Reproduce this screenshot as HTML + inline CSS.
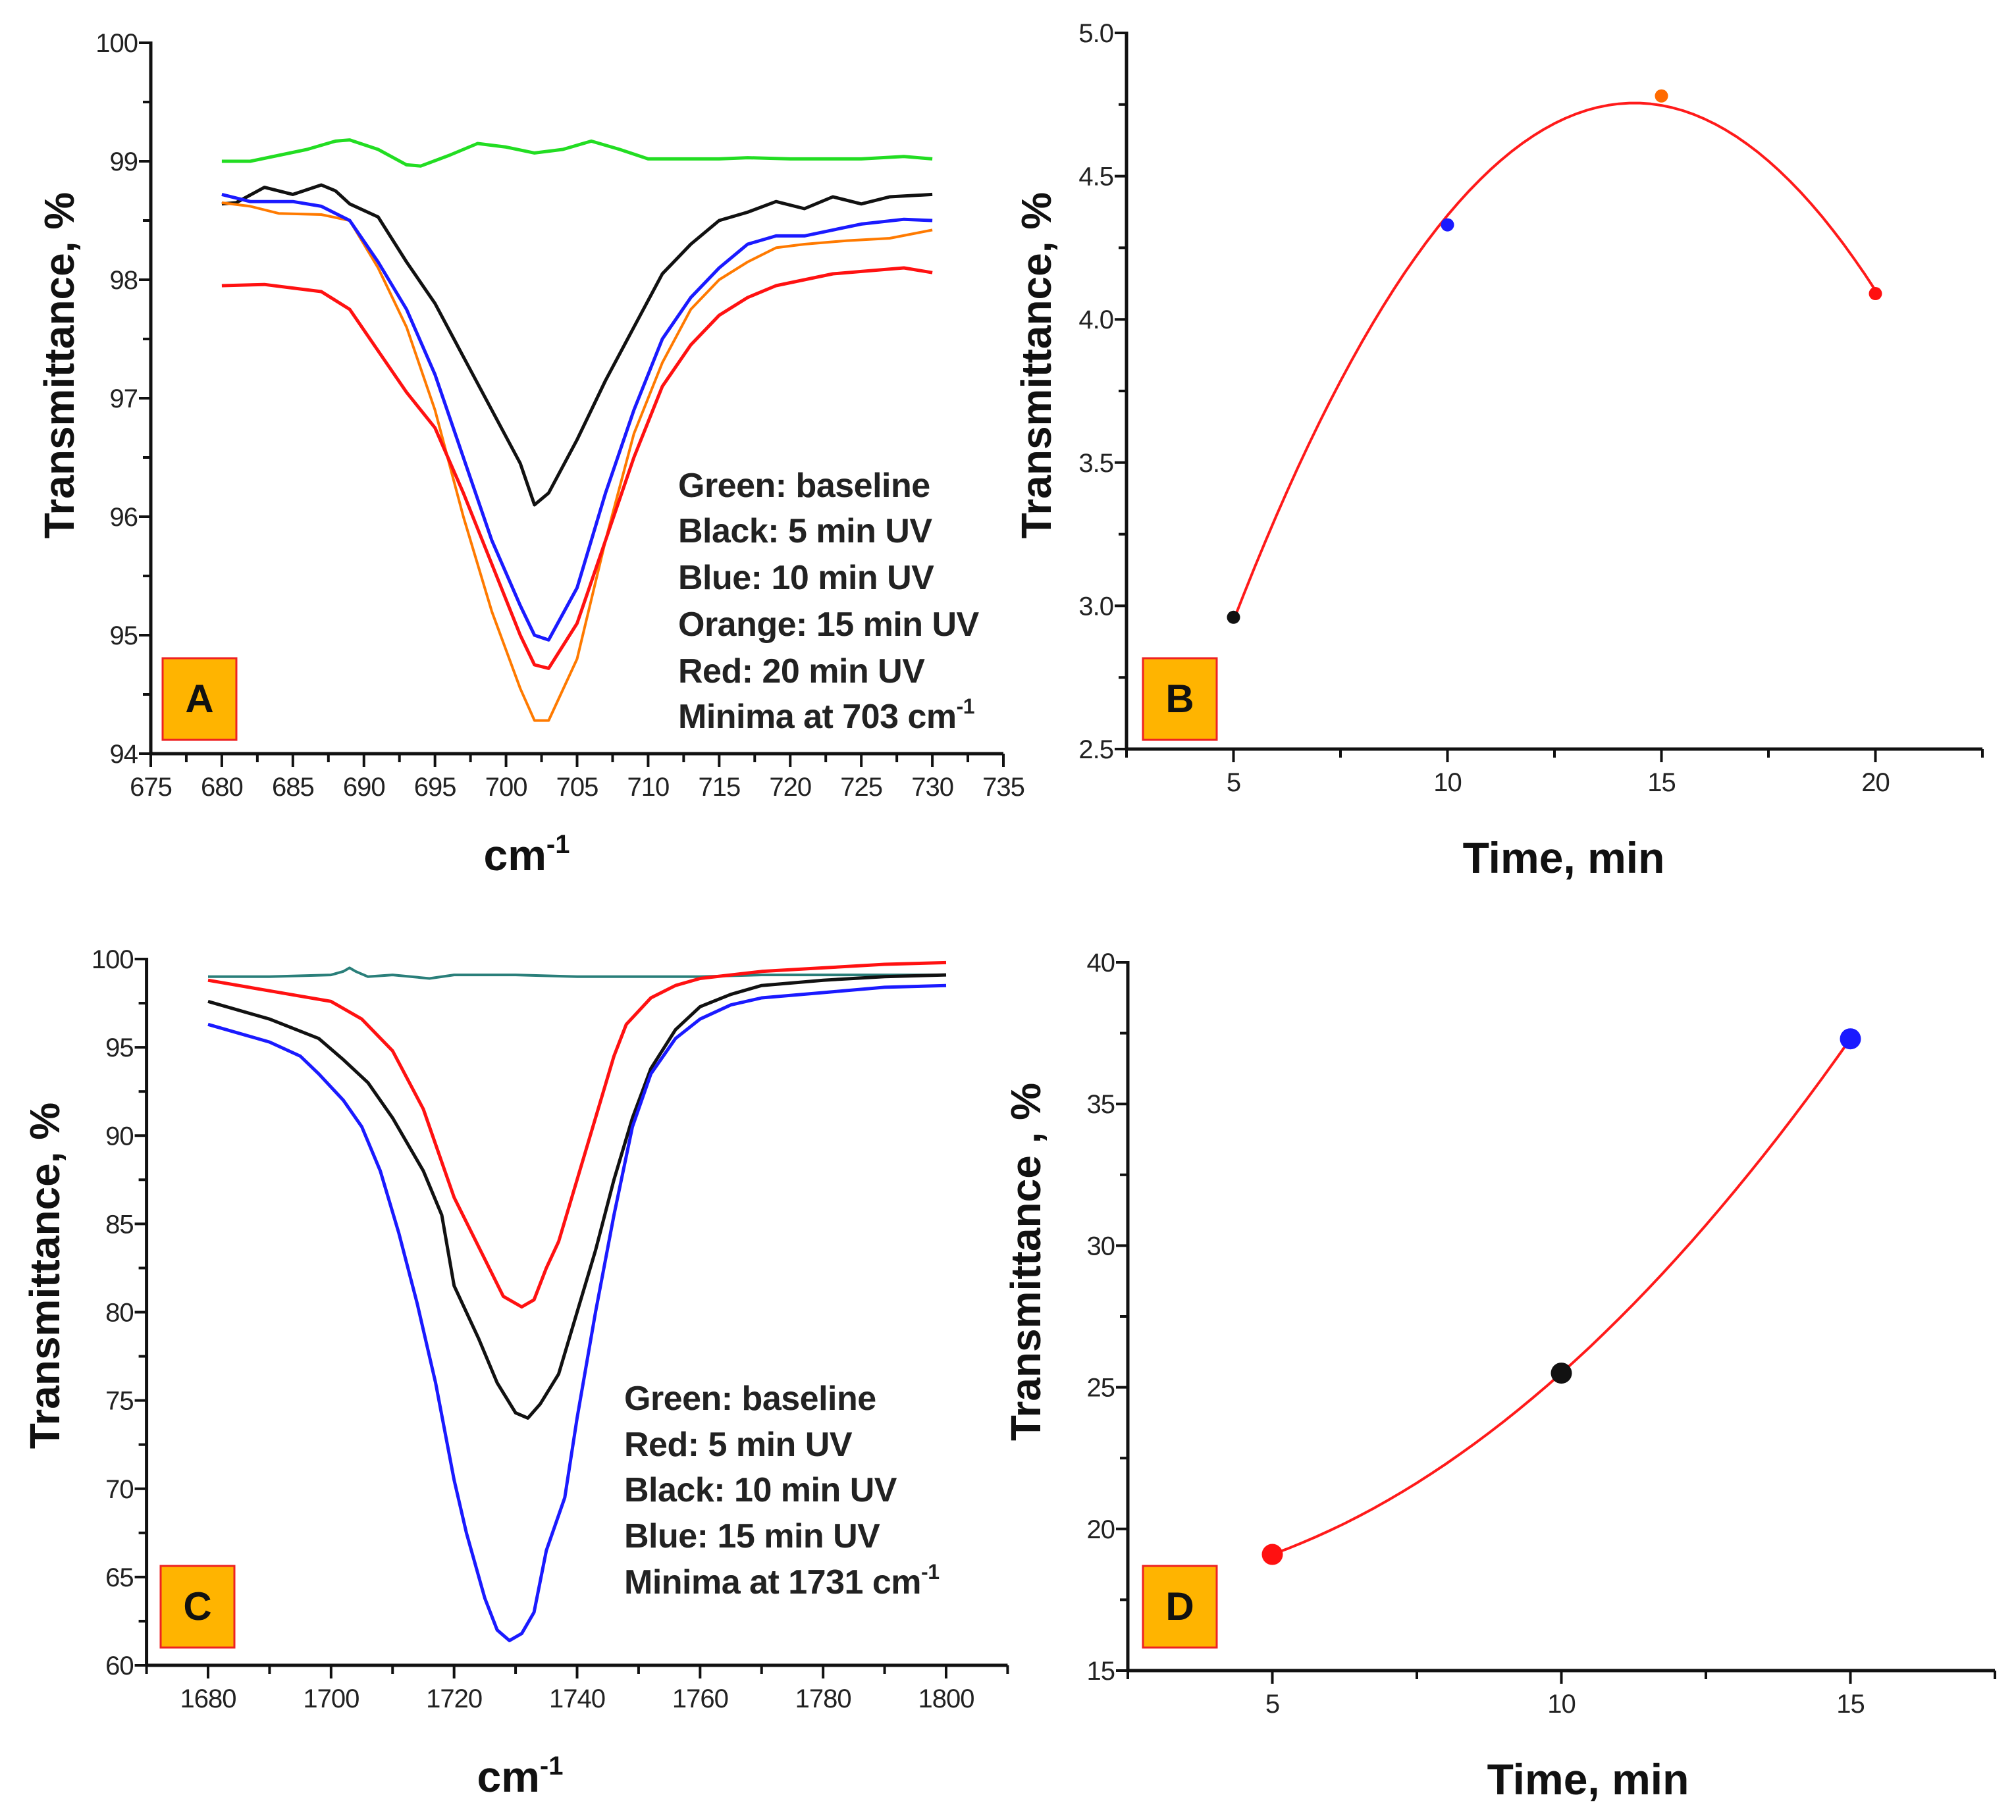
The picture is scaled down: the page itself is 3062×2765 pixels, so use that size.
<!DOCTYPE html>
<html><head><meta charset="utf-8">
<style>
html,body{margin:0;padding:0;background:#fff;}
svg text{font-family:"Liberation Sans",Arial,sans-serif;}
</style></head>
<body>
<svg id="fig" xmlns="http://www.w3.org/2000/svg" width="3062" height="2760" viewBox="0 0 3062 2760">
<rect x="0" y="0" width="3062" height="2760" fill="#ffffff"/>
</svg>
<script>
// ---------- Panel A data ----------
const aGreenX=[680,682,684,686,688,689,691,693,694,696,698,700,702,704,706,708,710,715,717,720,725,728,730];
const aGreenY=[99.0,99.0,99.05,99.1,99.17,99.18,99.1,98.97,98.96,99.05,99.15,99.12,99.07,99.1,99.17,99.1,99.02,99.02,99.03,99.02,99.02,99.04,99.02];
const aBlackX=[680,681,683,685,687,688,689,691,693,695,697,699,701,702,703,705,707,709,711,713,715,717,719,721,723,725,727,730];
const aBlackY=[98.64,98.65,98.78,98.72,98.8,98.75,98.64,98.53,98.15,97.8,97.35,96.9,96.45,96.1,96.2,96.65,97.15,97.6,98.05,98.3,98.5,98.57,98.66,98.6,98.7,98.64,98.7,98.72];
const aBlueX=[680,682,685,687,689,691,693,695,697,699,701,702,703,705,707,709,711,713,715,717,719,721,723,725,728,730];
const aBlueY=[98.72,98.66,98.66,98.62,98.5,98.15,97.75,97.2,96.5,95.8,95.25,95.0,94.96,95.4,96.2,96.9,97.5,97.85,98.1,98.3,98.37,98.37,98.42,98.47,98.51,98.5];
const aOrangeX=[680,682,684,687,689,691,693,695,697,699,701,702,703,705,707,709,711,713,715,717,719,721,724,727,730];
const aOrangeY=[98.65,98.62,98.56,98.55,98.5,98.1,97.6,96.9,96.0,95.2,94.55,94.28,94.28,94.8,95.8,96.7,97.3,97.75,98.0,98.15,98.27,98.3,98.33,98.35,98.42];
const aRedX=[680,683,685,687,689,691,693,695,697,699,701,702,703,705,707,709,711,713,715,717,719,721,723,725,728,730];
const aRedY=[97.95,97.96,97.93,97.9,97.75,97.4,97.05,96.75,96.2,95.6,95.0,94.75,94.72,95.1,95.8,96.5,97.1,97.45,97.7,97.85,97.95,98.0,98.05,98.07,98.1,98.06];
const aXTicks=[675,680,685,690,695,700,705,710,715,720,725,730,735];
const aYTicks=[94,95,96,97,98,99,100];
// ---------- Panel B data ----------
const bTime=[5,10,15,20];
const bTrans=[2.96,4.33,4.78,4.09];
const bXTicks=[5,10,15,20];
const bYTicks=["2.5","3.0","3.5","4.0","4.5","5.0"];
// ---------- Panel C data ----------
const cGreenX=[1680,1690,1700,1702,1703,1704,1706,1710,1716,1720,1730,1740,1750,1760,1770,1780,1790,1800];
const cGreenY=[99.0,99.0,99.1,99.3,99.5,99.3,99.0,99.1,98.9,99.1,99.1,99.0,99.0,99.0,99.1,99.1,99.1,99.1];
const cRedX=[1680,1690,1700,1705,1710,1715,1718,1720,1725,1728,1731,1733,1735,1737,1740,1743,1746,1748,1752,1756,1760,1770,1780,1790,1800];
const cRedY=[98.8,98.2,97.6,96.6,94.8,91.5,88.5,86.5,83,80.9,80.3,80.7,82.5,84,87.5,91,94.5,96.3,97.8,98.5,98.9,99.3,99.5,99.7,99.8];
const cBlackX=[1680,1690,1698,1702,1706,1710,1715,1718,1720,1724,1727,1730,1732,1734,1737,1740,1743,1746,1749,1752,1756,1760,1765,1770,1780,1790,1800];
const cBlackY=[97.6,96.6,95.5,94.3,93,91,88,85.5,81.5,78.5,76,74.3,74,74.8,76.5,80,83.5,87.5,91,93.8,96,97.3,98,98.5,98.8,99.0,99.1];
const cBlueX=[1680,1690,1695,1698,1702,1705,1708,1711,1714,1717,1720,1722,1725,1727,1729,1731,1733,1735,1738,1740,1743,1746,1749,1752,1756,1760,1765,1770,1780,1790,1800];
const cBlueY=[96.3,95.3,94.5,93.5,92,90.5,88,84.5,80.5,76,70.5,67.5,63.8,62,61.4,61.8,63,66.5,69.5,74,80,85.5,90.5,93.5,95.5,96.6,97.4,97.8,98.1,98.4,98.5];
const cXTicks=[1680,1700,1720,1740,1760,1780,1800];
const cYTicks=[60,65,70,75,80,85,90,95,100];
// ---------- Panel D data ----------
const dTime=[5,10,15];
const dTrans=[19.1,25.5,37.3];
const dXTicks=[5,10,15];
const dYTicks=[15,20,25,30,35,40];

const NS="http://www.w3.org/2000/svg";
const svg=document.getElementById('fig');
function mk(tag,attrs,parent){const e=document.createElementNS(NS,tag);for(const k in attrs)e.setAttribute(k,attrs[k]);(parent||svg).appendChild(e);return e;}
function scale(d0,d1,r0,r1){return v=>r0+(v-d0)*(r1-r0)/(d1-d0);}

function axes(g,sx,sy,x0,x1,y0,y1,xt,xminor,yt,yminor){
  const L=sx(x0),R=sx(x1),T=sy(y1),B=sy(y0);
  const ax=mk('line',{x1:L,y1:B,x2:R,y2:B,stroke:'#111','stroke-width':5},g);
  
  
  const ay=mk('line',{x1:L,y1:T-2,x2:L,y2:B+2,stroke:'#111','stroke-width':5},g);
  
  
  for(let v=x0;v<=x1+1e-9;v+=xminor){
    const major=xt.some(t=>Math.abs(parseFloat(t)-v)<1e-6);
    const tk=mk('line',{x1:sx(v),y1:B,x2:sx(v),y2:B+(major?20:13),stroke:'#111','stroke-width':4},g);
    
    
  }
  for(let v=y0;v<=y1+1e-9;v+=yminor){
    const major=yt.some(t=>Math.abs(parseFloat(t)-v)<1e-6);
    const tk=mk('line',{x1:L,y1:sy(v),x2:L-(major?18:12),y2:sy(v),stroke:'#111','stroke-width':4},g);
    
    
  }
  xt.forEach(t=>{const e=mk('text',{x:sx(parseFloat(t)),y:B+64,'text-anchor':'middle','font-size':40,fill:'#222','letter-spacing':'-1'},g);e.textContent=t;
    
    });
  yt.forEach(t=>{const e=mk('text',{x:L-20,y:sy(parseFloat(t))+14,'text-anchor':'end','font-size':40,fill:'#222','letter-spacing':'-1'},g);e.textContent=t;
    
    });
}
function line(g,sx,sy,xs,ys,color,name,w){
  const d=xs.map((x,i)=>(i?'L':'M')+sx(x).toFixed(1)+','+sy(ys[i]).toFixed(1)).join('');
  const p=mk('path',{d:d,fill:'none',stroke:color,'stroke-width':w||5,'stroke-linejoin':'round'},g);
  
  
}
function ytitle(g,x,y,txt){
  const e=mk('text',{x:x,y:y,'text-anchor':'middle','font-size':64,'font-weight':'bold',fill:'#111',transform:`rotate(-90 ${x} ${y})`},g);
  e.textContent=txt;
  
  
}
function xtitle(g,x,y,txt,sup){
  const e=mk('text',{x:x,y:y,'text-anchor':'middle','font-size':66,'font-weight':'bold',fill:'#111'},g);
  e.textContent=txt;
  if(sup){const s=mk('tspan',{dy:-26,'font-size':40},e);s.textContent=sup;}
  
  
}
function badge(g,x,y,letter){
  const r=mk('rect',{x:x,y:y,width:112,height:124,fill:'#ffb400',stroke:'#ee2222','stroke-width':3},g);
  
  
  const t=mk('text',{x:x+56,y:y+82,'text-anchor':'middle','font-size':60,'font-weight':'bold',fill:'#111'},g);
  t.textContent=letter;
  
  
}
function legend(g,x,ys,lines,sup){
  lines.forEach((s,i)=>{
    const t=mk('text',{x:x,y:ys[i]+18,'font-size':52,'font-weight':'bold',fill:'#222','letter-spacing':'-0.5'},g);
    t.textContent=s;
    if(i===lines.length-1){const sp=mk('tspan',{dy:-22,'font-size':32},t);sp.textContent=sup;}
    
    
  });
}
function dot(g,cx,cy,r,color){
  const c=mk('circle',{cx:cx,cy:cy,r:r,fill:color},g);
  
  
}
function quadFit(xs,ys){
  let S=[0,0,0,0,0],T=[0,0,0];
  xs.forEach((x,i)=>{for(let k=0;k<5;k++)S[k]+=Math.pow(x,k);for(let k=0;k<3;k++)T[k]+=ys[i]*Math.pow(x,k);});
  const M=[[S[0],S[1],S[2],T[0]],[S[1],S[2],S[3],T[1]],[S[2],S[3],S[4],T[2]]];
  for(let i=0;i<3;i++){for(let j=i+1;j<3;j++){const f=M[j][i]/M[i][i];for(let k=i;k<4;k++)M[j][k]-=f*M[i][k];}}
  const c=[0,0,0];
  for(let i=2;i>=0;i--){let s=M[i][3];for(let k=i+1;k<3;k++)s-=M[i][k]*c[k];c[i]=s/M[i][i];}
  return x=>c[0]+c[1]*x+c[2]*x*x;
}

// ===== Panel A =====
(function(){
  const g=mk('g',{});
  
  
  const sx=scale(675,735,229,1524), sy=scale(94,100,1145,65);
  axes(g,sx,sy,675,735,94,100,aXTicks.map(String),2.5,aYTicks.map(String),0.5);
  line(g,sx,sy,aGreenX,aGreenY,'#22dd22','series-green-baseline');
  line(g,sx,sy,aBlackX,aBlackY,'#111111','series-black-5min');
  line(g,sx,sy,aOrangeX,aOrangeY,'#ff7a00','series-orange-15min',4);
  line(g,sx,sy,aRedX,aRedY,'#ff1111','series-red-20min');
  line(g,sx,sy,aBlueX,aBlueY,'#1a1aff','series-blue-10min');
  ytitle(g,112,555,'Transmittance, %');
  xtitle(g,800,1322,'cm','-1');
  badge(g,247,1000,'A');
  legend(g,1030,[737,806,877,948,1019,1088],['Green: baseline','Black: 5 min UV','Blue: 10 min UV','Orange: 15 min UV','Red: 20 min UV','Minima at 703 cm'],'-1');
})();
// ===== Panel B =====
(function(){
  const g=mk('g',{});
  
  
  const sx=scale(2.5,22.5,1711,3011), sy=scale(2.5,5.0,1138,50);
  axes(g,sx,sy,2.5,22.5,2.5,5.0,bXTicks.map(String),2.5,bYTicks,0.25);
  const f=quadFit(bTime,bTrans);
  const xs=[],ys=[];
  for(let t=bTime[0];t<=bTime[bTime.length-1]+1e-9;t+=0.25){xs.push(t);ys.push(f(t));}
  line(g,sx,sy,xs,ys,'#ff1a1a','fit-curve-b',4);
  const cols=['#111111','#1a1aff','#ff6a00','#ff1111'];
  bTime.forEach((t,i)=>dot(g,sx(t),sy(bTrans[i]),10,cols[i]));
  ytitle(g,1596,555,'Transmittance, %');
  xtitle(g,2375,1326,'Time, min');
  badge(g,1736,1000,'B');
})();
// ===== Panel C =====
(function(){
  const g=mk('g',{});
  
  
  const sy=scale(60,100,2530,1457);
  const sxc=scale(1680,1800,316,1437);
  axes(g,sxc,sy,1670,1810,60,100,cXTicks.map(String),10,cYTicks.map(String),2.5);
  line(g,sxc,sy,cGreenX,cGreenY,'#2a7f7a','series-green-baseline',4);
  line(g,sxc,sy,cBlackX,cBlackY,'#111111','series-black-10min');
  line(g,sxc,sy,cRedX,cRedY,'#ff1111','series-red-5min');
  line(g,sxc,sy,cBlueX,cBlueY,'#1a1aff','series-blue-15min');
  ytitle(g,90,1938,'Transmittance, %');
  xtitle(g,790,2722,'cm','-1');
  badge(g,244,2379,'C');
  legend(g,948,[2124,2194,2263,2333,2403],['Green: baseline','Red: 5 min UV','Black: 10 min UV','Blue: 15 min UV','Minima at 1731 cm'],'-1');
})();
// ===== Panel D =====
(function(){
  const g=mk('g',{});
  
  
  const sx=scale(2.5,17.5,1713,3030), sy=scale(15,40,2538,1462);
  axes(g,sx,sy,2.5,17.5,15,40,dXTicks.map(String),2.5,dYTicks.map(String),2.5);
  const f=quadFit(dTime,dTrans);
  const xs=[],ys=[];
  for(let t=dTime[0];t<=dTime[dTime.length-1]+1e-9;t+=0.25){xs.push(t);ys.push(f(t));}
  line(g,sx,sy,xs,ys,'#ff1a1a','fit-curve-d',4);
  const cols=['#ff1111','#111111','#1a1aff'];
  dTime.forEach((t,i)=>dot(g,sx(t),sy(dTrans[i]),16,cols[i]));
  ytitle(g,1580,1917,'Transmittance , %');
  xtitle(g,2412,2726,'Time, min');
  badge(g,1736,2379,'D');
})();
</script>
</body></html>
